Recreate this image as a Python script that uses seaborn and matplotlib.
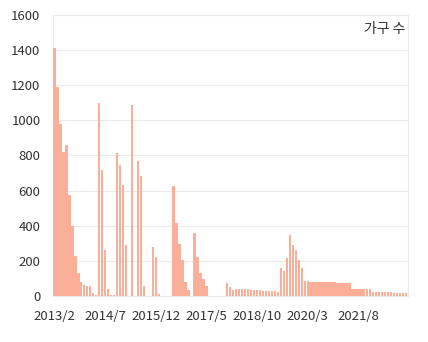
import matplotlib
matplotlib.use("Agg")
import matplotlib.pyplot as plt
import seaborn as sns
import pandas as pd

# Categories: monthly, 2013/2 .. 2022/12
months = [f"{p.year}/{p.month}" for p in pd.period_range("2013-02", "2022-12", freq="M")]

households = [
    1410, 1188, 978, 818, 860, 576, 400, 226, 130, 82,
    60, 57, 57, 17, 8, 1100, 718, 262, 40, 8,
    8, 815, 746, 632, 290, 0, 1088, 0, 770, 683,
    57, 0, 0, 280, 222, 12, 0, 0, 0, 0,
    627, 417, 296, 205, 80, 34, 0, 357, 222, 130,
    97, 55, 0, 0, 0, 0, 0, 0, 74, 50,
    32, 38, 38, 38, 38, 38, 37, 35, 35, 32,
    30, 30, 28, 28, 27, 25, 160, 140, 215, 348,
    290, 264, 205, 160, 85, 83, 80, 80, 80, 82,
    80, 80, 80, 80, 80, 75, 75, 72, 75, 75,
    38, 38, 38, 38, 38, 38, 38, 25, 25, 25,
    25, 25, 25, 25, 18, 18, 18, 18, 15,
]

y_ticks = [0, 200, 400, 600, 800, 1000, 1200, 1400, 1600]
series_name = "가구 수"
tick_every = 17

sns.set_theme(style="white")
plt.rcParams["font.family"] = ["Noto Sans CJK KR", "DejaVu Sans"]

df = pd.DataFrame({"month": months, "value": households})

fig = plt.figure(figsize=(4.28, 3.42), dpi=100)
ax = fig.add_axes([53 / 428, 1 - 296 / 342, 354.5 / 428, 281 / 342])

sns.barplot(data=df, x="month", y="value", color="#FBAE98", saturation=1,
            width=0.8, linewidth=0, edgecolor="none", ax=ax, zorder=3)

ax.set_ylim(0, 1600)
ax.set_xlim(-0.5, len(months) - 0.5)
ax.set_yticks(y_ticks)
ax.set_yticklabels([str(v) for v in y_ticks])
idx = list(range(0, len(months), tick_every))
ax.set_xticks(idx)
ax.set_xticklabels([months[i] for i in idx])
ax.grid(axis="y", color="#EBEBEB", linewidth=0.8, zorder=0)
ax.grid(axis="x", visible=False)
for s in ax.spines.values():
    s.set_color("#EBEBEB")
    s.set_linewidth(0.8)
ax.tick_params(axis="both", length=0, labelsize=9.5, labelcolor="#333333")
ax.tick_params(axis="x", pad=10)
ax.tick_params(axis="y", pad=9)
ax.set_xlabel("")
ax.set_ylabel("")

ax.text(0.993, 0.95, series_name, transform=ax.transAxes, ha="right", va="center",
        fontsize=10, color="#333333")

fig.savefig("out.png", dpi=100)
